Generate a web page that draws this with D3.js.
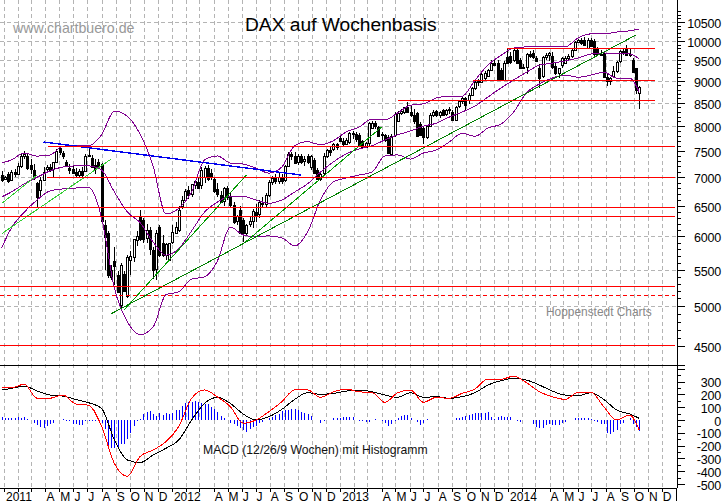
<!DOCTYPE html>
<html><head><meta charset="utf-8">
<script src="https://cdn.jsdelivr.net/npm/d3@7/dist/d3.min.js"></script>
<style>
html,body{margin:0;padding:0;background:#fff}
svg{display:block}
text{font-family:"Liberation Sans",Arial,sans-serif}
</style></head><body>
<svg id="c" width="723" height="503"></svg>
<script>
// Weekly candles: [open, high, low, close]; week 0 = 27 Dec 2010
const candles = [
[7040,7110,6920,6950],[6960,7030,6950,7000],[7060,7090,6900,6930],[6950,7130,6930,7100],[7100,7150,7000,7060],
[7060,7260,7040,7200],[7200,7450,7170,7400],[7400,7490,7350,7440],[7390,7440,7130,7170],[7230,7350,7050,7150],
[7130,7250,6950,7000],[6890,6920,6480,6650],[6770,7000,6660,6950],[6950,7180,6930,7100],[7160,7220,7090,7190],
[7190,7250,7100,7130],[7140,7280,6990,7280],[7280,7530,7260,7500],[7560,7600,7420,7480],[7450,7500,7340,7400],
[7290,7330,7200,7220],[7170,7250,7050,7130],[7160,7220,7060,7090],[7100,7170,7000,7050],[7040,7150,7000,7110],
[7120,7180,7000,7040],[7110,7430,7090,7390],[7400,7530,7380,7420],[7370,7420,7180,7200],[7230,7350,7050,7150],
[7280,7340,7180,7200],[7250,7260,6230,6250],[6180,6260,5500,5990],[6050,6090,5380,5420],[5400,5560,5350,5500],
[5620,5830,5280,5540],[5420,5480,5180,5190],[5020,5600,4950,5570],[5430,5480,5180,5200],[5130,5720,5100,5680],
[5640,5770,5420,5700],[5680,5960,5610,5950],[5950,6090,5850,6010],[6310,6430,5930,5960],[6260,6300,5900,5950],
[5970,6190,5900,6100],[6100,6150,5720,5800],[5790,5830,5370,5500],[5500,6100,5350,6050],[6150,6180,5680,5720],
[5890,6020,5690,5710],[5720,5900,5640,5880],[5640,5900,5620,5890],[5900,6180,5880,6060],[6060,6230,6030,6150],
[6100,6500,6060,6430],[6500,6660,6440,6600],[6600,6790,6570,6760],[6770,6850,6620,6680],[6690,6880,6650,6870],
[6860,6950,6780,6930],[6920,7010,6780,6810],[6860,7190,6790,7140],[7000,7200,6900,7170],[7170,7230,6930,6960],
[7080,7160,6950,7000],[6960,7010,6720,6750],[6780,6900,6650,6690],[6680,6760,6540,6560],[6570,6830,6500,6800],
[6800,6850,6600,6640],[6640,6740,6480,6510],[6510,6560,6200,6230],[6230,6350,6180,6320],[6430,6500,6040,6050],
[6260,6300,5910,6050],[6050,6190,6000,6180],[6190,6320,6150,6240],[6240,6440,6130,6410],[6400,6520,6230,6340],
[6350,6600,6300,6560],[6550,6650,6470,6540],[6540,6720,6480,6690],[6680,6950,6650,6910],[6900,7020,6860,6980],
[6980,7060,6870,6930],[6930,7080,6880,7010],[7010,7060,6880,6930],[6950,7230,6920,7210],[7210,7470,7190,7430],
[7430,7480,7330,7400],[7400,7480,7240,7270],[7270,7430,7230,7390],[7390,7440,7240,7280],[7300,7400,7210,7340],
[7400,7440,7240,7280],[7180,7420,7140,7390],[7320,7370,7050,7080],[7130,7170,6950,6960],[6960,7090,6930,7060],
[7070,7450,7040,7400],[7400,7540,7370,7520],[7520,7590,7400,7490],[7530,7660,7500,7630],[7630,7660,7520,7580],
[7760,7790,7680,7700],[7700,7760,7600,7640],[7640,7750,7610,7720],[7680,7880,7630,7860],[7860,7900,7740,7830],
[7830,7870,7680,7730],[7820,7860,7570,7600],[7700,7720,7550,7590],[7590,7680,7560,7660],[7640,8080,7600,8060],
[7960,8100,7930,8060],[8060,8110,7950,8000],[7990,8010,7780,7810],[7810,7880,7700,7830],[7810,7840,7680,7700],
[7780,7820,7440,7460],[7450,7830,7400,7800],[7800,8310,7780,8250],[8110,8320,8080,8280],[8280,8360,8240,8320],
[8290,8420,8260,8400],[8400,8530,8290,8300],[8290,8440,8200,8230],[8230,8360,8050,8100],[8280,8300,7770,7790],
[8050,8090,7800,7830],[7960,8010,7640,7780],[7790,8030,7740,8010],[8010,8280,7990,8240],[8240,8340,8200,8310],
[8320,8350,8200,8230],[8230,8320,8180,8290],[8350,8370,8220,8250],[8250,8370,8210,8340],[8340,8420,8260,8370],
[8310,8350,8110,8130],[8130,8440,8100,8420],[8420,8560,8390,8540],[8540,8630,8480,8600],[8600,8640,8340,8450],
[8570,8730,8470,8680],[8680,8850,8650,8830],[8830,9000,8800,8970],[8960,9050,8880,8990],[8970,9200,8950,9170],
[9080,9230,9030,9190],[9110,9290,9090,9260],[9260,9500,9230,9440],[9440,9510,9370,9400],[9430,9500,9000,9020],
[9260,9300,9000,9020],[9020,9480,9000,9430],[9590,9790,9400,9440],[9600,9700,9420,9450],[9500,9790,9470,9760],
[9760,9790,9400,9440],[9510,9560,9290,9320],[9320,9420,9280,9340],[9340,9690,9170,9670],[9670,9730,9550,9620],
[9680,9750,9530,9570],[9570,9620,9450,9500],[9310,9400,8830,9060],[9120,9610,9080,9580],[9580,9680,9520,9640],
[9640,9720,9480,9680],[9600,9700,9290,9320],[9370,9440,9150,9190],[9190,9320,9080,9300],[9370,9580,9320,9550],
[9430,9610,9400,9560],[9560,9650,9500,9600],[9600,9800,9560,9760],[9760,9990,9740,9960],[9960,10050,9930,10020],
[10020,10060,9890,9950],[10030,10100,9880,9900],[9830,10080,9790,10030],[10030,10060,9830,9880],[9980,10050,9620,9650],
[9780,9830,9620,9650],[9650,9760,9600,9660],[9690,9730,9080,9090],[9100,9200,8880,9010],[9010,9100,8900,9070],
[9130,9350,9090,9240],[9250,9490,9200,9470],[9480,9770,9440,9740],[9740,9810,9640,9680],[9790,9900,9600,9640],
[9640,9820,9580,9650],[9510,9560,9190,9210],[9310,9320,8700,8790],[8730,8880,8360,8860]
];

// Bollinger bands, sampled every four weeks
const bandWeeks = [0,3,7,11,15,19,23,27,31,35,39,43,47,51,55,59,63,67,71,75,79,83,87,91,95,99,103,107,111,115,119,123,127,131,135,139,143,147,151,155,159,163,167,171,175,179,183,187,191,195,198];
const bandUpper = [7265,7322,7457,7397,7418,7590,7600,7600,7820,8320,8210,7830,7210,6360,6455,6740,7322,7400,7265,7245,7170,7075,7190,7600,7680,7620,7700,7880,7980,8150,8130,8280,8450,8480,8610,8650,8650,9020,9380,9620,9810,9840,9860,9840,9840,10070,10180,10180,10230,10260,10310];
const bandMiddle = [6650,6735,6880,7000,7115,7190,7210,7210,7134,6735,6395,6215,5910,5710,5810,6085,6390,6560,6660,6660,6596,6540,6596,6735,6880,7095,7285,7440,7535,7600,7715,7820,7900,8000,8060,8190,8300,8430,8630,8835,9024,9210,9380,9430,9485,9560,9660,9685,9660,9660,9530];
const bandLower = [5820,6130,6390,6596,6755,6790,6805,6820,6300,5240,4800,4640,4730,5150,5190,5365,5395,5625,6145,6020,5990,6005,5975,5850,6065,6596,6915,6985,7040,7095,7400,7420,7340,7457,7516,7675,7850,7790,7960,8040,8300,8730,8930,9070,9140,9090,9140,9210,9070,9070,8745];

// MACD lines at the same sampled weeks
const macdLine = [255,252,280,170,170,195,125,115,-47,-340,-440,-285,-235,-170,-50,170,235,180,105,-25,0,65,143,235,235,177,220,242,220,215,138,213,234,138,177,169,208,242,320,317,343,291,221,182,161,216,216,104,0,39,-78];
const signalLine = [234,247,265,226,195,187,161,135,91,-156,-312,-333,-273,-221,-156,0,130,177,130,47,0,26,83,161,213,200,208,226,234,221,195,177,213,177,182,169,182,213,273,307,325,312,273,226,195,190,213,161,78,47,13];
const histogram = [20,15,12,12,15,20,12,25,8,0,-20,-40,-55,-65,-50,-35,-25,0,3,5,-5,-10,-30,-35,-40,-40,-5,-8,-10,-10,-10,-20,
-73,-215,-215,-215,-215,-190,-190,-150,-100,-47,-8,5,45,65,70,50,30,57,40,57,50,57,75,75,110,135,143,143,148,140,135,127,122,104,83,65,31,13,0,-21,-34,-47,-65,-80,-91,-73,-55,-47,-21,-13,-3,18,23,39,49,70,78,75,83,88,78,65,57,49,31,0,0,-21,-8,0,0,13,18,13,23,23,23,23,0,-8,-10,
-15,-15,0,5,0,-8,-21,-47,-34,-8,13,31,39,39,18,0,-15,-39,-21,5,3,3,3,3,3,3,3,0,18,18,23,31,39,49,52,55,57,55,62,23,5,23,34,23,23,23,3,-8,-15,-3,3,3,-30,-55,-65,-60,-39,-34,-42,-42,-42,-21,-15,3,3,13,18,18,13,13,5,-8,-15,-34,-34,-100,-107,-91,-80,-34,-21,3,13,-34,-55,-85];

// Horizontal levels: price, first week (to the end week or the axis), dashed flag
const levelPrices = [9810,9024,8565,7600,7000,6480,6330,5268,5150,4510];
const levelStarts = [157,146.5,123,14.5,14,-2,-2,-2,-2,-2];
const levelEnds   = [203,203,203,209,209,209,209,209,209,209];
const levelDashed = [0,0,0,0,0,0,0,0,1,0];

// Trend lines: [week, price, week, price]
const trendsBright = [[0,6535,11,7040],[0,6040,34,7340]];
const trendsGreen = [[38,4949,76,7040],[74.5,5860,118,7980]];
const trendsDark = [[34,4900,197,10150]];
const trendsBlue = [[13,7675,93,7040]];

const priceTicks = [4500,5000,5500,6000,6500,7000,7500,8000,8500,9000,9500,10000,10500];
const macdTicks = [-500,-400,-300,-200,-100,0,100,200,300];
const monthLabels = ["2011","A","M","J","J","A","S","O","N","D","2012","A","M","J","J","A","S","O","N","D","2013","A","M","J","J","A","S","O","N","D","2014","A","M","J","J","A","S","O","N","D"];
const monthIndex = [0,3,4,5,6,7,8,9,10,11,12,15,16,17,18,19,20,21,22,23,24,27,28,29,30,31,32,33,34,35,36,39,40,41,42,43,44,45,46,47];
const titleText = "DAX auf Wochenbasis", siteText = "www.chartbuero.de", sourceText = "Hoppenstedt Charts", macdText = "MACD (12/26/9 Wochen) mit Histogramm";

const svg = d3.select("#c");
const start = Date.UTC(2010,11,27), week = 7*864e5;
const x = d3.scaleUtc().domain([new Date(Date.UTC(2011,0,1)), new Date(Date.UTC(2015,0,1))]).range([4,676]);
const xw = i => x(new Date(start + i*week));
const yP = d3.scaleLog().domain([10000,5000]).range([40.7,306]);
const yM = d3.scaleLinear().domain([300,-500]).range([381.6,484]);
const axisX = 677, sepY = 365, botY = 488;
const months = d3.range(48).map(m => new Date(Date.UTC(2011,m,1)));

// grid
const grid = svg.append("g").attr("stroke","#b4b4b4").attr("stroke-dasharray","4 3").attr("shape-rendering","crispEdges");
grid.selectAll(".v").data(months).join("line").attr("x1",d=>Math.round(x(d))+.5).attr("x2",d=>Math.round(x(d))+.5).attr("y1",0).attr("y2",botY);
grid.selectAll(".h").data(priceTicks.filter(t=>t>4500 && t!==7500 && t!==6500)).join("line")
  .attr("x1",0).attr("x2",axisX).attr("y1",d=>Math.round(yP(d))+.5).attr("y2",d=>Math.round(yP(d))+.5);

// clip to price panel
svg.append("clipPath").attr("id","p").append("rect").attr("width",axisX).attr("height",sepY);
const panel = svg.append("g").attr("clip-path","url(#p)");

// candles
const cg = panel.append("g").attr("shape-rendering","crispEdges");
cg.selectAll("line").data(candles).join("line")
  .attr("x1",(d,i)=>Math.round(xw(i))+.5).attr("x2",(d,i)=>Math.round(xw(i))+.5)
  .attr("y1",d=>yP(d[1])).attr("y2",d=>yP(d[2])).attr("stroke","#000");
cg.selectAll("rect").data(candles).join("rect")
  .attr("x",(d,i)=>Math.round(xw(i))-.5).attr("width",2)
  .attr("y",d=>Math.round(yP(Math.max(d[0],d[3])))+.5)
  .attr("height",d=>Math.max(1,Math.round(Math.abs(yP(d[0])-yP(d[3])))))
  .attr("fill",d=>d[3]>=d[0]?"#fff":"#000").attr("stroke","#000");

// bands
const bandPath = d3.line().x((d,i)=>xw(bandWeeks[i])).y(d=>yP(d)).curve(d3.curveMonotoneX);
[bandUpper,bandMiddle,bandLower].forEach(b=>panel.append("path").attr("d",bandPath(b)).attr("fill","none").attr("stroke","#800090").attr("stroke-width",1).attr("shape-rendering","crispEdges"));

// trend lines
function trends(list,color,w){
  panel.selectAll(null).data(list).join("line")
    .attr("x1",d=>xw(d[0])).attr("y1",d=>yP(d[1])).attr("x2",d=>xw(d[2])).attr("y2",d=>yP(d[3]))
    .attr("stroke",color).attr("stroke-width",w).attr("shape-rendering","crispEdges");
}
trends(trendsBright,"#33cc33",1);
trends(trendsGreen,"#009900",1);
trends(trendsDark,"#008000",1);
trends(trendsBlue,"#0000ee",1.4);

// red levels
panel.selectAll(null).data(levelPrices).join("line")
  .attr("x1",(d,i)=>Math.max(0,xw(levelStarts[i]))).attr("x2",(d,i)=>Math.min(axisX,xw(levelEnds[i])))
  .attr("y1",d=>Math.round(yP(d))+.5).attr("y2",d=>Math.round(yP(d))+.5)
  .attr("stroke","#f00").attr("stroke-width",1.2).attr("shape-rendering","crispEdges")
  .attr("stroke-dasharray",(d,i)=>levelDashed[i]?"4 3":null);

// MACD panel
const hg = svg.append("g").attr("shape-rendering","crispEdges");
hg.selectAll("line").data(histogram).join("line")
  .attr("x1",(d,i)=>Math.round(xw(i))+.5).attr("x2",(d,i)=>Math.round(xw(i))+.5)
  .attr("y1",yM(0)).attr("y2",d=>yM(d)).attr("stroke","#0000ff");
const macdPath = d3.line().x((d,i)=>xw(bandWeeks[i])).y(d=>yM(d)).curve(d3.curveMonotoneX);
svg.append("path").attr("d",macdPath(signalLine)).attr("fill","none").attr("stroke","#000").attr("stroke-width",1).attr("shape-rendering","crispEdges");
svg.append("path").attr("d",macdPath(macdLine)).attr("fill","none").attr("stroke","#f00").attr("stroke-width",1).attr("shape-rendering","crispEdges");

// frame and axes
const frame = svg.append("g").attr("stroke","#000").attr("shape-rendering","crispEdges");
frame.append("line").attr("x1",axisX+.5).attr("x2",axisX+.5).attr("y1",0).attr("y2",botY).attr("stroke-width",1.5);
frame.append("line").attr("x1",0).attr("x2",685).attr("y1",sepY+.5).attr("y2",sepY+.5);
frame.append("line").attr("x1",0).attr("x2",axisX).attr("y1",botY+.5).attr("y2",botY+.5);

const priceMinor = d3.range(4500,10900,100);
frame.selectAll(null).data(priceMinor.filter(v=>yP(v)>0 && yP(v)<sepY)).join("line")
  .attr("x1",axisX).attr("x2",d=>axisX+(d%500===0?8:4))
  .attr("y1",d=>Math.round(yP(d))+.5).attr("y2",d=>Math.round(yP(d))+.5);
const macdMinor = d3.range(-500,401,50);
frame.selectAll(null).data(macdMinor).join("line")
  .attr("x1",axisX).attr("x2",d=>axisX+(d%100===0?8:4))
  .attr("y1",d=>Math.round(yM(d))+.5).attr("y2",d=>Math.round(yM(d))+.5);
frame.selectAll(null).data(months).join("line")
  .attr("x1",d=>Math.round(x(d))+.5).attr("x2",d=>Math.round(x(d))+.5).attr("y1",botY).attr("y2",botY+4);
frame.append("line").attr("x1",axisX-1).attr("x2",axisX-1).attr("y1",botY).attr("y2",501);

// tick labels
svg.selectAll(null).data(priceTicks).join("text")
  .attr("x",721).attr("y",d=>yP(d)+6).attr("text-anchor","end").attr("font-size",12.5).attr("letter-spacing",-.2).text(d=>d);
svg.selectAll(null).data(macdTicks).join("text")
  .attr("x",721).attr("y",d=>yM(d)+5.5).attr("text-anchor","end").attr("font-size",12.5).attr("letter-spacing",-.2).text(d=>d);
svg.selectAll(null).data(monthLabels).join("text")
  .attr("x",(d,i)=>x(months[monthIndex[i]])+(d.length>1?2:1)).attr("y",501).attr("font-size",12).text(d=>d);

// annotations
svg.append("text").attr("x",245).attr("y",31).attr("font-size",19.2).attr("fill","#000").text(titleText);
svg.append("text").attr("x",13).attr("y",33).attr("font-size",14.2).attr("fill","#999").text(siteText);
svg.append("text").attr("x",546).attr("y",316).attr("font-size",11.9).attr("fill","#888").text(sourceText);
svg.append("text").attr("x",203).attr("y",454).attr("font-size",12.2).attr("fill","#111").text(macdText);
</script>
</body></html>
